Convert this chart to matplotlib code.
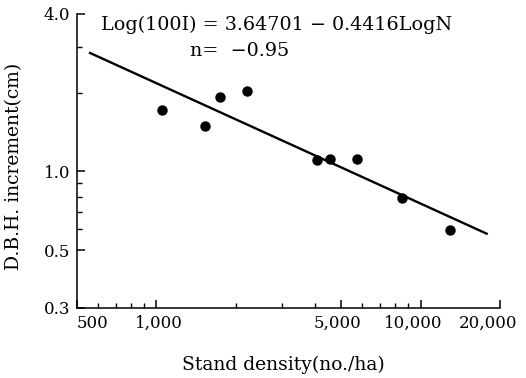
import matplotlib
matplotlib.use("Agg")
import matplotlib.pyplot as plt
from matplotlib.ticker import FixedLocator, NullFormatter
from matplotlib.transforms import ScaledTranslation

# Data
density = [1053, 1522, 1741, 2205, 4068, 4535, 5772, 8511, 12955]
increment = [1.715, 1.492, 1.925, 2.023, 1.103, 1.116, 1.116, 0.789, 0.599]

# Regression line end points
line_x = [555, 17970]
line_y = [2.85, 0.575]

x_major = [500, 1000, 5000, 10000, 20000]
x_major_labels = ["500", "1,000", "5,000", "10,000", "20,000"]
x_minor = [600, 700, 800, 900, 2000, 3000, 4000, 6000, 7000, 8000, 9000]
y_major = [0.3, 0.5, 1.0, 4.0]
y_major_labels = ["0.3", "0.5", "1.0", "4.0"]
y_minor = [0.6, 0.7, 0.8, 0.9, 2.0, 3.0]

equation = "Log(100I) = 3.64701 \u2212 0.4416LogN"
corr = "n=  \u22120.95"

plt.rcParams['font.family'] = ['DejaVu Serif']

fig = plt.figure(figsize=(5.26, 3.78), dpi=100)
ax = fig.add_axes([77/526, 1 - 308/378, (500-77)/526, (308-14)/378])

ax.set_xscale('log')
ax.set_yscale('log')
ax.set_xlim(500, 20000)
ax.set_ylim(0.3, 4.0)

ax.plot(line_x, line_y, color='black', lw=1.7, solid_capstyle='butt')
ax.plot(density, increment, 'o', color='black', ms=6.5)

ax.xaxis.set_major_locator(FixedLocator(x_major))
ax.set_xticklabels(x_major_labels)
ax.xaxis.set_minor_locator(FixedLocator(x_minor))
ax.xaxis.set_minor_formatter(NullFormatter())
ax.yaxis.set_major_locator(FixedLocator(y_major))
ax.set_yticklabels(y_major_labels)
ax.yaxis.set_minor_locator(FixedLocator(y_minor))
ax.yaxis.set_minor_formatter(NullFormatter())

for s in ['top', 'right']:
    ax.spines[s].set_visible(False)
for s in ['left', 'bottom']:
    ax.spines[s].set_linewidth(1.1)

ax.tick_params(which='major', direction='in', length=6, width=1.1, labelsize=12, pad=5)
ax.tick_params(which='minor', direction='in', length=3.5, width=1.0)

# horizontal nudges (pixels) of x tick labels, as in the printed figure
nudges = [0, 2, -4, -7, -12]
for tick, dx in zip(ax.xaxis.get_major_ticks(), nudges):
    lab = tick.label1
    lab.set_transform(lab.get_transform() + ScaledTranslation(dx / 100, 0, fig.dpi_scale_trans))
ax.xaxis.get_major_ticks()[0].label1.set_horizontalalignment('left')

ax.set_xlabel("Stand density(no./ha)", fontsize=13.5)
ax.xaxis.set_label_coords(0.489, -0.163)
ax.set_ylabel("D.B.H. increment(cm)", fontsize=13.5)
ax.yaxis.set_label_coords(-0.128, 0.483)

ax.text(101/526, 1 - 30/378, equation, transform=fig.transFigure, fontsize=13.8,
        ha='left', va='baseline')
ax.text(190/526, 1 - 56/378, corr, transform=fig.transFigure, fontsize=13.8,
        ha='left', va='baseline')

fig.savefig("out.png", dpi=100)
